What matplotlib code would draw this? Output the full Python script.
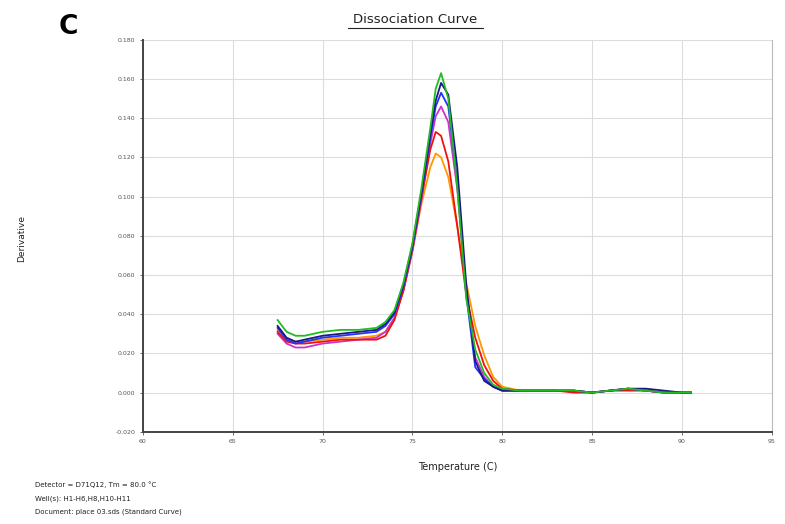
import numpy as np
import matplotlib
matplotlib.use("Agg")
import matplotlib.pyplot as plt
from matplotlib.lines import Line2D

# temperature grid (deg C) shared by all wells
temps = [67.5, 68.0, 68.5, 69.0, 70.0, 71.0, 72.0, 73.0, 73.5, 74.0, 74.5, 75.0,
         75.5, 76.0, 76.3, 76.6, 77.0, 77.5, 78.0, 78.5, 79.0, 79.5, 80.0, 81.0,
         82.0, 83.0, 84.0, 85.0, 86.0, 87.0, 88.0, 89.0, 90.0, 90.5]

green = [0.037, 0.031, 0.029, 0.029, 0.031, 0.032, 0.032, 0.033, 0.036, 0.042, 0.056, 0.076,
         0.104, 0.135, 0.155, 0.163, 0.150, 0.105, 0.048, 0.022, 0.010, 0.004, 0.002, 0.001,
         0.001, 0.001, 0.001, 0.000, 0.001, 0.002, 0.001, 0.000, 0.000, 0.000]
navy = [0.034, 0.028, 0.026, 0.027, 0.029, 0.030, 0.031, 0.032, 0.035, 0.041, 0.055, 0.075,
        0.102, 0.132, 0.149, 0.158, 0.152, 0.115, 0.055, 0.016, 0.006, 0.003, 0.001, 0.001,
        0.001, 0.001, 0.001, 0.000, 0.001, 0.002, 0.002, 0.001, 0.000, 0.000]
blue = [0.033, 0.027, 0.025, 0.026, 0.028, 0.029, 0.030, 0.031, 0.034, 0.040, 0.054, 0.074,
        0.101, 0.130, 0.146, 0.153, 0.146, 0.108, 0.050, 0.013, 0.007, 0.003, 0.001, 0.001,
        0.001, 0.001, 0.001, 0.000, 0.001, 0.002, 0.001, 0.000, 0.000, 0.000]
purple = [0.030, 0.025, 0.023, 0.023, 0.025, 0.026, 0.027, 0.028, 0.031, 0.038, 0.052, 0.072,
          0.098, 0.127, 0.141, 0.146, 0.138, 0.104, 0.052, 0.018, 0.008, 0.003, 0.001, 0.001,
          0.001, 0.001, 0.001, 0.000, 0.001, 0.002, 0.001, 0.000, 0.000, 0.000]
red = [0.031, 0.026, 0.025, 0.025, 0.026, 0.027, 0.027, 0.027, 0.029, 0.037, 0.052, 0.073,
       0.099, 0.124, 0.133, 0.131, 0.118, 0.085, 0.050, 0.028, 0.014, 0.006, 0.002, 0.001,
       0.001, 0.001, 0.000, 0.000, 0.001, 0.001, 0.001, 0.000, 0.000, 0.000]
orange = [0.032, 0.027, 0.026, 0.026, 0.027, 0.028, 0.028, 0.029, 0.031, 0.038, 0.052, 0.072,
          0.096, 0.115, 0.122, 0.120, 0.110, 0.085, 0.056, 0.034, 0.019, 0.008, 0.003, 0.001,
          0.001, 0.001, 0.001, 0.000, 0.001, 0.002, 0.001, 0.000, 0.000, 0.000]

series = [("#ff9900", orange), ("#cc33cc", purple), ("#ee1111", red),
          ("#2233ff", blue), ("#1a1a80", navy), ("#22bb22", green)]

x_ticks = [60, 65, 70, 75, 80, 85, 90, 95]
y_ticks = [-0.02, 0.0, 0.02, 0.04, 0.06, 0.08, 0.10, 0.12, 0.14, 0.16, 0.18]

info_lines = ["Detector = D71Q12, Tm = 80.0 \u00b0C",
              "Well(s): H1-H6,H8,H10-H11",
              "Document: place 03.sds (Standard Curve)"]

fig = plt.figure(figsize=(7.85, 5.24), dpi=100)
ax = fig.add_axes([0.182, 0.176, 0.801, 0.748])

for color, vals in series:
    ax.plot(temps, vals, color=color, lw=1.3)

ax.set_xlim(60, 95)
ax.set_ylim(-0.02, 0.18)
ax.set_xticks(x_ticks)
ax.set_yticks(y_ticks)
ax.set_xticklabels([str(t) for t in x_ticks])
ax.set_yticklabels(["%.3f" % t for t in y_ticks])
ax.tick_params(labelsize=4.5, colors="#555555", length=2, width=0.6)
ax.grid(True, color="#dddddd", lw=0.8)
ax.set_axisbelow(True)

ax.spines["top"].set_visible(False)
ax.spines["right"].set_color("#bbbbbb")
ax.spines["right"].set_linewidth(0.8)
for s in ["left", "bottom"]:
    ax.spines[s].set_color("#444444")
    ax.spines[s].set_linewidth(1.4)

ax.set_xlabel("Temperature (C)", fontsize=7, color="#222222", labelpad=13)
fig.text(0.027, 0.545, "Derivative", rotation=90, fontsize=6.5, color="#222222",
         ha="center", va="center")

# title with underline
fig.text(0.529, 0.962, "Dissociation Curve", fontsize=9.5, ha="center", va="center",
         color="#222222")
fig.add_artist(Line2D([0.443, 0.615], [0.946, 0.946], color="#222222", lw=0.8))

fig.text(0.087, 0.948, "C", fontsize=19, fontweight="bold", ha="center", va="center")

for i, line in enumerate(info_lines):
    fig.text(0.045, 0.075 - i * 0.026, line, fontsize=5, color="#222222", va="center")

plt.savefig("out.png", dpi=100)
